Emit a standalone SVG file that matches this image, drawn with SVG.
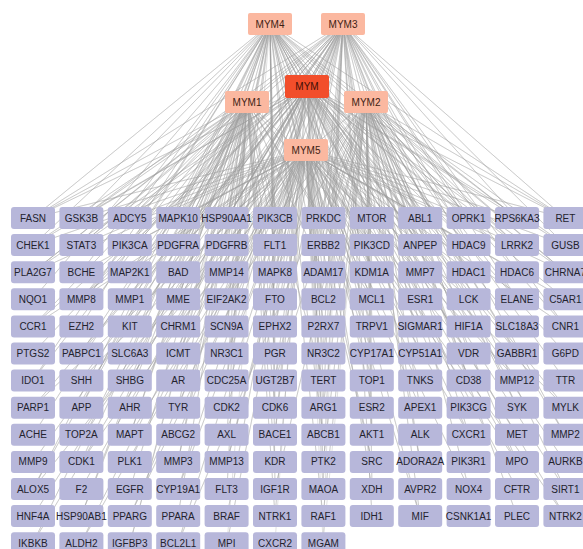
<svg xmlns="http://www.w3.org/2000/svg" width="583" height="549" viewBox="0 0 583 549">
<style>
text{font-family:"Liberation Sans",Arial,sans-serif;font-size:10px;text-anchor:middle}
.t rect{fill:#b7b7da;rx:3px}
.t text{fill:#23232e}
.s rect{fill:#fbb8a0;rx:2px}
.s text{fill:#3e1e14}
#MYM rect{fill:#f24e2b}
#MYM text{fill:#3e0e06}
#edges path{fill:none;stroke:#a0a0a0;stroke-opacity:0.45;stroke-width:0.7;stroke-linejoin:round}
</style>
<rect width="583" height="549" fill="#fff"/>
<g id="edges">
<path d="M270 24L33 218 270 24 81 218 270 24 130 218 270 24 178 218 270 24 227 218 270 24 275 218 270 24 323 218 270 24 372 218 270 24 420 218 270 24 469 218 270 24 517 218 270 24 565 218 270 24 33 245 270 24 130 245 270 24 227 245 270 24 323 245 270 24 420 245 270 24 517 245 270 24 81 272 270 24 178 272 270 24 275 272 270 24 372 272 270 24 469 272 270 24 565 272 270 24 33 299 270 24 178 299 270 24 323 299 270 24 469 299 270 24 81 326 270 24 227 326 270 24 372 326 270 24 517 326 270 24 130 353 270 24 275 353 270 24 420 353 270 24 565 353 270 24 33 380 270 24 227 380 270 24 420 380 270 24 81 407 270 24 275 407 270 24 469 407 270 24 130 435 270 24 323 435 270 24 517 435 270 24 178 462 270 24 372 462 270 24 565 462 270 24 33 489 270 24 275 489 270 24 517 489 270 24 81 516 270 24 323 516 270 24 565 516 270 24 130 543 270 24 227 543"/>
<path d="M343 24L33 218 343 24 81 218 343 24 130 218 343 24 178 218 343 24 227 218 343 24 275 218 343 24 323 218 343 24 372 218 343 24 420 218 343 24 469 218 343 24 517 218 343 24 565 218 343 24 81 245 343 24 178 245 343 24 275 245 343 24 372 245 343 24 469 245 343 24 565 245 343 24 33 272 343 24 130 272 343 24 227 272 343 24 323 272 343 24 420 272 343 24 517 272 343 24 81 299 343 24 227 299 343 24 372 299 343 24 517 299 343 24 130 326 343 24 275 326 343 24 420 326 343 24 565 326 343 24 33 353 343 24 178 353 343 24 323 353 343 24 469 353 343 24 81 380 343 24 275 380 343 24 469 380 343 24 130 407 343 24 323 407 343 24 517 407 343 24 178 435 343 24 372 435 343 24 565 435 343 24 33 462 343 24 227 462 343 24 420 462 343 24 81 489 343 24 323 489 343 24 565 489 343 24 130 516 343 24 372 516 343 24 33 543 343 24 178 543 343 24 323 543"/>
<path d="M307 86L33 218 307 86 81 218 307 86 130 218 307 86 178 218 307 86 227 218 307 86 275 218 307 86 323 218 307 86 372 218 307 86 420 218 307 86 469 218 307 86 517 218 307 86 565 218 307 86 33 245 307 86 81 245 307 86 130 245 307 86 178 245 307 86 227 245 307 86 275 245 307 86 323 245 307 86 372 245 307 86 420 245 307 86 469 245 307 86 517 245 307 86 565 245 307 86 33 272 307 86 178 272 307 86 275 272 307 86 372 272 307 86 469 272 307 86 565 272 307 86 130 299 307 86 275 299 307 86 420 299 307 86 565 299 307 86 33 326 307 86 178 326 307 86 323 326 307 86 469 326 307 86 81 353 307 86 227 353 307 86 372 353 307 86 517 353 307 86 130 380 307 86 323 380 307 86 517 380 307 86 33 407 307 86 178 407 307 86 372 407 307 86 565 407 307 86 81 435 307 86 275 435 307 86 469 435 307 86 130 462 307 86 323 462 307 86 517 462 307 86 178 489 307 86 372 489 307 86 565 489 307 86 33 516 307 86 227 516 307 86 420 516 307 86 81 543 307 86 275 543"/>
<path d="M247 102L33 218 247 102 81 218 247 102 130 218 247 102 178 218 247 102 227 218 247 102 275 218 247 102 323 218 247 102 372 218 247 102 33 245 247 102 81 245 247 102 178 245 247 102 275 245 247 102 372 245 247 102 33 272 247 102 130 272 247 102 227 272 247 102 323 272 247 102 81 299 247 102 178 299 247 102 275 299 247 102 372 299 247 102 33 326 247 102 130 326 247 102 227 326 247 102 81 353 247 102 178 353 247 102 275 353 247 102 33 380 247 102 130 380 247 102 227 380 247 102 323 380 247 102 81 407 247 102 178 407 247 102 275 407 247 102 33 435 247 102 130 435 247 102 227 435 247 102 81 462 247 102 178 462 247 102 275 462 247 102 33 489 247 102 130 489 247 102 227 489 247 102 81 516 247 102 178 516 247 102 275 516 247 102 33 543 247 102 130 543"/>
<path d="M366 102L227 218 366 102 275 218 366 102 323 218 366 102 372 218 366 102 420 218 366 102 469 218 366 102 517 218 366 102 565 218 366 102 323 245 366 102 420 245 366 102 517 245 366 102 565 245 366 102 275 272 366 102 372 272 366 102 469 272 366 102 565 272 366 102 227 299 366 102 323 299 366 102 420 299 366 102 517 299 366 102 372 326 366 102 469 326 366 102 565 326 366 102 323 353 366 102 420 353 366 102 517 353 366 102 275 380 366 102 372 380 366 102 469 380 366 102 565 380 366 102 323 407 366 102 420 407 366 102 517 407 366 102 372 435 366 102 469 435 366 102 565 435 366 102 323 462 366 102 420 462 366 102 517 462 366 102 275 489 366 102 372 489 366 102 469 489 366 102 323 516 366 102 420 516 366 102 517 516 366 102 178 543 366 102 323 543"/>
<path d="M306 150L33 218 306 150 81 218 306 150 130 218 306 150 178 218 306 150 227 218 306 150 275 218 306 150 323 218 306 150 372 218 306 150 420 218 306 150 469 218 306 150 517 218 306 150 565 218 306 150 33 245 306 150 81 245 306 150 130 245 306 150 178 245 306 150 227 245 306 150 275 245 306 150 323 245 306 150 372 245 306 150 420 245 306 150 469 245 306 150 517 245 306 150 565 245 306 150 33 272 306 150 81 272 306 150 130 272 306 150 178 272 306 150 227 272 306 150 275 272 306 150 323 272 306 150 372 272 306 150 420 272 306 150 469 272 306 150 517 272 306 150 565 272 306 150 81 299 306 150 227 299 306 150 323 299 306 150 372 299 306 150 469 299 306 150 565 299 306 150 33 326 306 150 178 326 306 150 275 326 306 150 323 326 306 150 420 326 306 150 565 326 306 150 130 353 306 150 227 353 306 150 323 353 306 150 372 353 306 150 469 353 306 150 81 380 306 150 178 380 306 150 275 380 306 150 372 380 306 150 517 380 306 150 33 407 306 150 227 407 306 150 323 407 306 150 420 407 306 150 565 407 306 150 130 435 306 150 275 435 306 150 323 435 306 150 469 435 306 150 81 462 306 150 227 462 306 150 372 462 306 150 517 462 306 150 33 489 306 150 178 489 306 150 323 489 306 150 469 489 306 150 130 516 306 150 275 516 306 150 420 516 306 150 565 516 306 150 81 543 306 150 227 543 306 150 323 543"/>
</g>
<g id="sources">
<g id="MYM4" class="s"><rect x="248" y="13" width="44" height="22"/><text x="270" y="27.6">MYM4</text></g>
<g id="MYM3" class="s"><rect x="321" y="13" width="44" height="22"/><text x="343" y="27.6">MYM3</text></g>
<g id="MYM" class="s"><rect x="285" y="75" width="44" height="23"/><text x="307" y="90">MYM</text></g>
<g id="MYM1" class="s"><rect x="225" y="91" width="44" height="22"/><text x="247" y="105.6">MYM1</text></g>
<g id="MYM2" class="s"><rect x="344" y="91" width="44" height="22"/><text x="366" y="105.6">MYM2</text></g>
<g id="MYM5" class="s"><rect x="284" y="139" width="44" height="22"/><text x="306" y="153.6">MYM5</text></g>
</g>
<g id="targets">
<g transform="translate(0 207)">
<g id="FASN" class="t" transform="translate(11 0)"><rect width="44" height="22"/><text x="22" y="14.6">FASN</text></g>
<g id="GSK3B" class="t" transform="translate(59.4 0)"><rect width="44" height="22"/><text x="22" y="14.6">GSK3B</text></g>
<g id="ADCY5" class="t" transform="translate(107.8 0)"><rect width="44" height="22"/><text x="22" y="14.6">ADCY5</text></g>
<g id="MAPK10" class="t" transform="translate(156.2 0)"><rect width="44" height="22"/><text x="22" y="14.6">MAPK10</text></g>
<g id="HSP90AA1" class="t" transform="translate(204.6 0)"><rect width="44" height="22"/><text x="22" y="14.6">HSP90AA1</text></g>
<g id="PIK3CB" class="t" transform="translate(253 0)"><rect width="44" height="22"/><text x="22" y="14.6">PIK3CB</text></g>
<g id="PRKDC" class="t" transform="translate(301.4 0)"><rect width="44" height="22"/><text x="22" y="14.6">PRKDC</text></g>
<g id="MTOR" class="t" transform="translate(349.8 0)"><rect width="44" height="22"/><text x="22" y="14.6">MTOR</text></g>
<g id="ABL1" class="t" transform="translate(398.2 0)"><rect width="44" height="22"/><text x="22" y="14.6">ABL1</text></g>
<g id="OPRK1" class="t" transform="translate(446.6 0)"><rect width="44" height="22"/><text x="22" y="14.6">OPRK1</text></g>
<g id="RPS6KA3" class="t" transform="translate(495 0)"><rect width="44" height="22"/><text x="22" y="14.6">RPS6KA3</text></g>
<g id="RET" class="t" transform="translate(543.4 0)"><rect width="44" height="22"/><text x="22" y="14.6">RET</text></g>
</g>
<g transform="translate(0 234.1)">
<g id="CHEK1" class="t" transform="translate(11 0)"><rect width="44" height="22"/><text x="22" y="14.6">CHEK1</text></g>
<g id="STAT3" class="t" transform="translate(59.4 0)"><rect width="44" height="22"/><text x="22" y="14.6">STAT3</text></g>
<g id="PIK3CA" class="t" transform="translate(107.8 0)"><rect width="44" height="22"/><text x="22" y="14.6">PIK3CA</text></g>
<g id="PDGFRA" class="t" transform="translate(156.2 0)"><rect width="44" height="22"/><text x="22" y="14.6">PDGFRA</text></g>
<g id="PDGFRB" class="t" transform="translate(204.6 0)"><rect width="44" height="22"/><text x="22" y="14.6">PDGFRB</text></g>
<g id="FLT1" class="t" transform="translate(253 0)"><rect width="44" height="22"/><text x="22" y="14.6">FLT1</text></g>
<g id="ERBB2" class="t" transform="translate(301.4 0)"><rect width="44" height="22"/><text x="22" y="14.6">ERBB2</text></g>
<g id="PIK3CD" class="t" transform="translate(349.8 0)"><rect width="44" height="22"/><text x="22" y="14.6">PIK3CD</text></g>
<g id="ANPEP" class="t" transform="translate(398.2 0)"><rect width="44" height="22"/><text x="22" y="14.6">ANPEP</text></g>
<g id="HDAC9" class="t" transform="translate(446.6 0)"><rect width="44" height="22"/><text x="22" y="14.6">HDAC9</text></g>
<g id="LRRK2" class="t" transform="translate(495 0)"><rect width="44" height="22"/><text x="22" y="14.6">LRRK2</text></g>
<g id="GUSB" class="t" transform="translate(543.4 0)"><rect width="44" height="22"/><text x="22" y="14.6">GUSB</text></g>
</g>
<g transform="translate(0 261.2)">
<g id="PLA2G7" class="t" transform="translate(11 0)"><rect width="44" height="22"/><text x="22" y="14.6">PLA2G7</text></g>
<g id="BCHE" class="t" transform="translate(59.4 0)"><rect width="44" height="22"/><text x="22" y="14.6">BCHE</text></g>
<g id="MAP2K1" class="t" transform="translate(107.8 0)"><rect width="44" height="22"/><text x="22" y="14.6">MAP2K1</text></g>
<g id="BAD" class="t" transform="translate(156.2 0)"><rect width="44" height="22"/><text x="22" y="14.6">BAD</text></g>
<g id="MMP14" class="t" transform="translate(204.6 0)"><rect width="44" height="22"/><text x="22" y="14.6">MMP14</text></g>
<g id="MAPK8" class="t" transform="translate(253 0)"><rect width="44" height="22"/><text x="22" y="14.6">MAPK8</text></g>
<g id="ADAM17" class="t" transform="translate(301.4 0)"><rect width="44" height="22"/><text x="22" y="14.6">ADAM17</text></g>
<g id="KDM1A" class="t" transform="translate(349.8 0)"><rect width="44" height="22"/><text x="22" y="14.6">KDM1A</text></g>
<g id="MMP7" class="t" transform="translate(398.2 0)"><rect width="44" height="22"/><text x="22" y="14.6">MMP7</text></g>
<g id="HDAC1" class="t" transform="translate(446.6 0)"><rect width="44" height="22"/><text x="22" y="14.6">HDAC1</text></g>
<g id="HDAC6" class="t" transform="translate(495 0)"><rect width="44" height="22"/><text x="22" y="14.6">HDAC6</text></g>
<g id="CHRNA7" class="t" transform="translate(543.4 0)"><rect width="44" height="22"/><text x="22" y="14.6">CHRNA7</text></g>
</g>
<g transform="translate(0 288.3)">
<g id="NQO1" class="t" transform="translate(11 0)"><rect width="44" height="22"/><text x="22" y="14.6">NQO1</text></g>
<g id="MMP8" class="t" transform="translate(59.4 0)"><rect width="44" height="22"/><text x="22" y="14.6">MMP8</text></g>
<g id="MMP1" class="t" transform="translate(107.8 0)"><rect width="44" height="22"/><text x="22" y="14.6">MMP1</text></g>
<g id="MME" class="t" transform="translate(156.2 0)"><rect width="44" height="22"/><text x="22" y="14.6">MME</text></g>
<g id="EIF2AK2" class="t" transform="translate(204.6 0)"><rect width="44" height="22"/><text x="22" y="14.6">EIF2AK2</text></g>
<g id="FTO" class="t" transform="translate(253 0)"><rect width="44" height="22"/><text x="22" y="14.6">FTO</text></g>
<g id="BCL2" class="t" transform="translate(301.4 0)"><rect width="44" height="22"/><text x="22" y="14.6">BCL2</text></g>
<g id="MCL1" class="t" transform="translate(349.8 0)"><rect width="44" height="22"/><text x="22" y="14.6">MCL1</text></g>
<g id="ESR1" class="t" transform="translate(398.2 0)"><rect width="44" height="22"/><text x="22" y="14.6">ESR1</text></g>
<g id="LCK" class="t" transform="translate(446.6 0)"><rect width="44" height="22"/><text x="22" y="14.6">LCK</text></g>
<g id="ELANE" class="t" transform="translate(495 0)"><rect width="44" height="22"/><text x="22" y="14.6">ELANE</text></g>
<g id="C5AR1" class="t" transform="translate(543.4 0)"><rect width="44" height="22"/><text x="22" y="14.6">C5AR1</text></g>
</g>
<g transform="translate(0 315.4)">
<g id="CCR1" class="t" transform="translate(11 0)"><rect width="44" height="22"/><text x="22" y="14.6">CCR1</text></g>
<g id="EZH2" class="t" transform="translate(59.4 0)"><rect width="44" height="22"/><text x="22" y="14.6">EZH2</text></g>
<g id="KIT" class="t" transform="translate(107.8 0)"><rect width="44" height="22"/><text x="22" y="14.6">KIT</text></g>
<g id="CHRM1" class="t" transform="translate(156.2 0)"><rect width="44" height="22"/><text x="22" y="14.6">CHRM1</text></g>
<g id="SCN9A" class="t" transform="translate(204.6 0)"><rect width="44" height="22"/><text x="22" y="14.6">SCN9A</text></g>
<g id="EPHX2" class="t" transform="translate(253 0)"><rect width="44" height="22"/><text x="22" y="14.6">EPHX2</text></g>
<g id="P2RX7" class="t" transform="translate(301.4 0)"><rect width="44" height="22"/><text x="22" y="14.6">P2RX7</text></g>
<g id="TRPV1" class="t" transform="translate(349.8 0)"><rect width="44" height="22"/><text x="22" y="14.6">TRPV1</text></g>
<g id="SIGMAR1" class="t" transform="translate(398.2 0)"><rect width="44" height="22"/><text x="22" y="14.6">SIGMAR1</text></g>
<g id="HIF1A" class="t" transform="translate(446.6 0)"><rect width="44" height="22"/><text x="22" y="14.6">HIF1A</text></g>
<g id="SLC18A3" class="t" transform="translate(495 0)"><rect width="44" height="22"/><text x="22" y="14.6">SLC18A3</text></g>
<g id="CNR1" class="t" transform="translate(543.4 0)"><rect width="44" height="22"/><text x="22" y="14.6">CNR1</text></g>
</g>
<g transform="translate(0 342.5)">
<g id="PTGS2" class="t" transform="translate(11 0)"><rect width="44" height="22"/><text x="22" y="14.6">PTGS2</text></g>
<g id="PABPC1" class="t" transform="translate(59.4 0)"><rect width="44" height="22"/><text x="22" y="14.6">PABPC1</text></g>
<g id="SLC6A3" class="t" transform="translate(107.8 0)"><rect width="44" height="22"/><text x="22" y="14.6">SLC6A3</text></g>
<g id="ICMT" class="t" transform="translate(156.2 0)"><rect width="44" height="22"/><text x="22" y="14.6">ICMT</text></g>
<g id="NR3C1" class="t" transform="translate(204.6 0)"><rect width="44" height="22"/><text x="22" y="14.6">NR3C1</text></g>
<g id="PGR" class="t" transform="translate(253 0)"><rect width="44" height="22"/><text x="22" y="14.6">PGR</text></g>
<g id="NR3C2" class="t" transform="translate(301.4 0)"><rect width="44" height="22"/><text x="22" y="14.6">NR3C2</text></g>
<g id="CYP17A1" class="t" transform="translate(349.8 0)"><rect width="44" height="22"/><text x="22" y="14.6">CYP17A1</text></g>
<g id="CYP51A1" class="t" transform="translate(398.2 0)"><rect width="44" height="22"/><text x="22" y="14.6">CYP51A1</text></g>
<g id="VDR" class="t" transform="translate(446.6 0)"><rect width="44" height="22"/><text x="22" y="14.6">VDR</text></g>
<g id="GABBR1" class="t" transform="translate(495 0)"><rect width="44" height="22"/><text x="22" y="14.6">GABBR1</text></g>
<g id="G6PD" class="t" transform="translate(543.4 0)"><rect width="44" height="22"/><text x="22" y="14.6">G6PD</text></g>
</g>
<g transform="translate(0 369.6)">
<g id="IDO1" class="t" transform="translate(11 0)"><rect width="44" height="22"/><text x="22" y="14.6">IDO1</text></g>
<g id="SHH" class="t" transform="translate(59.4 0)"><rect width="44" height="22"/><text x="22" y="14.6">SHH</text></g>
<g id="SHBG" class="t" transform="translate(107.8 0)"><rect width="44" height="22"/><text x="22" y="14.6">SHBG</text></g>
<g id="AR" class="t" transform="translate(156.2 0)"><rect width="44" height="22"/><text x="22" y="14.6">AR</text></g>
<g id="CDC25A" class="t" transform="translate(204.6 0)"><rect width="44" height="22"/><text x="22" y="14.6">CDC25A</text></g>
<g id="UGT2B7" class="t" transform="translate(253 0)"><rect width="44" height="22"/><text x="22" y="14.6">UGT2B7</text></g>
<g id="TERT" class="t" transform="translate(301.4 0)"><rect width="44" height="22"/><text x="22" y="14.6">TERT</text></g>
<g id="TOP1" class="t" transform="translate(349.8 0)"><rect width="44" height="22"/><text x="22" y="14.6">TOP1</text></g>
<g id="TNKS" class="t" transform="translate(398.2 0)"><rect width="44" height="22"/><text x="22" y="14.6">TNKS</text></g>
<g id="CD38" class="t" transform="translate(446.6 0)"><rect width="44" height="22"/><text x="22" y="14.6">CD38</text></g>
<g id="MMP12" class="t" transform="translate(495 0)"><rect width="44" height="22"/><text x="22" y="14.6">MMP12</text></g>
<g id="TTR" class="t" transform="translate(543.4 0)"><rect width="44" height="22"/><text x="22" y="14.6">TTR</text></g>
</g>
<g transform="translate(0 396.7)">
<g id="PARP1" class="t" transform="translate(11 0)"><rect width="44" height="22"/><text x="22" y="14.6">PARP1</text></g>
<g id="APP" class="t" transform="translate(59.4 0)"><rect width="44" height="22"/><text x="22" y="14.6">APP</text></g>
<g id="AHR" class="t" transform="translate(107.8 0)"><rect width="44" height="22"/><text x="22" y="14.6">AHR</text></g>
<g id="TYR" class="t" transform="translate(156.2 0)"><rect width="44" height="22"/><text x="22" y="14.6">TYR</text></g>
<g id="CDK2" class="t" transform="translate(204.6 0)"><rect width="44" height="22"/><text x="22" y="14.6">CDK2</text></g>
<g id="CDK6" class="t" transform="translate(253 0)"><rect width="44" height="22"/><text x="22" y="14.6">CDK6</text></g>
<g id="ARG1" class="t" transform="translate(301.4 0)"><rect width="44" height="22"/><text x="22" y="14.6">ARG1</text></g>
<g id="ESR2" class="t" transform="translate(349.8 0)"><rect width="44" height="22"/><text x="22" y="14.6">ESR2</text></g>
<g id="APEX1" class="t" transform="translate(398.2 0)"><rect width="44" height="22"/><text x="22" y="14.6">APEX1</text></g>
<g id="PIK3CG" class="t" transform="translate(446.6 0)"><rect width="44" height="22"/><text x="22" y="14.6">PIK3CG</text></g>
<g id="SYK" class="t" transform="translate(495 0)"><rect width="44" height="22"/><text x="22" y="14.6">SYK</text></g>
<g id="MYLK" class="t" transform="translate(543.4 0)"><rect width="44" height="22"/><text x="22" y="14.6">MYLK</text></g>
</g>
<g transform="translate(0 423.8)">
<g id="ACHE" class="t" transform="translate(11 0)"><rect width="44" height="22"/><text x="22" y="14.6">ACHE</text></g>
<g id="TOP2A" class="t" transform="translate(59.4 0)"><rect width="44" height="22"/><text x="22" y="14.6">TOP2A</text></g>
<g id="MAPT" class="t" transform="translate(107.8 0)"><rect width="44" height="22"/><text x="22" y="14.6">MAPT</text></g>
<g id="ABCG2" class="t" transform="translate(156.2 0)"><rect width="44" height="22"/><text x="22" y="14.6">ABCG2</text></g>
<g id="AXL" class="t" transform="translate(204.6 0)"><rect width="44" height="22"/><text x="22" y="14.6">AXL</text></g>
<g id="BACE1" class="t" transform="translate(253 0)"><rect width="44" height="22"/><text x="22" y="14.6">BACE1</text></g>
<g id="ABCB1" class="t" transform="translate(301.4 0)"><rect width="44" height="22"/><text x="22" y="14.6">ABCB1</text></g>
<g id="AKT1" class="t" transform="translate(349.8 0)"><rect width="44" height="22"/><text x="22" y="14.6">AKT1</text></g>
<g id="ALK" class="t" transform="translate(398.2 0)"><rect width="44" height="22"/><text x="22" y="14.6">ALK</text></g>
<g id="CXCR1" class="t" transform="translate(446.6 0)"><rect width="44" height="22"/><text x="22" y="14.6">CXCR1</text></g>
<g id="MET" class="t" transform="translate(495 0)"><rect width="44" height="22"/><text x="22" y="14.6">MET</text></g>
<g id="MMP2" class="t" transform="translate(543.4 0)"><rect width="44" height="22"/><text x="22" y="14.6">MMP2</text></g>
</g>
<g transform="translate(0 450.9)">
<g id="MMP9" class="t" transform="translate(11 0)"><rect width="44" height="22"/><text x="22" y="14.6">MMP9</text></g>
<g id="CDK1" class="t" transform="translate(59.4 0)"><rect width="44" height="22"/><text x="22" y="14.6">CDK1</text></g>
<g id="PLK1" class="t" transform="translate(107.8 0)"><rect width="44" height="22"/><text x="22" y="14.6">PLK1</text></g>
<g id="MMP3" class="t" transform="translate(156.2 0)"><rect width="44" height="22"/><text x="22" y="14.6">MMP3</text></g>
<g id="MMP13" class="t" transform="translate(204.6 0)"><rect width="44" height="22"/><text x="22" y="14.6">MMP13</text></g>
<g id="KDR" class="t" transform="translate(253 0)"><rect width="44" height="22"/><text x="22" y="14.6">KDR</text></g>
<g id="PTK2" class="t" transform="translate(301.4 0)"><rect width="44" height="22"/><text x="22" y="14.6">PTK2</text></g>
<g id="SRC" class="t" transform="translate(349.8 0)"><rect width="44" height="22"/><text x="22" y="14.6">SRC</text></g>
<g id="ADORA2A" class="t" transform="translate(398.2 0)"><rect width="44" height="22"/><text x="22" y="14.6">ADORA2A</text></g>
<g id="PIK3R1" class="t" transform="translate(446.6 0)"><rect width="44" height="22"/><text x="22" y="14.6">PIK3R1</text></g>
<g id="MPO" class="t" transform="translate(495 0)"><rect width="44" height="22"/><text x="22" y="14.6">MPO</text></g>
<g id="AURKB" class="t" transform="translate(543.4 0)"><rect width="44" height="22"/><text x="22" y="14.6">AURKB</text></g>
</g>
<g transform="translate(0 478)">
<g id="ALOX5" class="t" transform="translate(11 0)"><rect width="44" height="22"/><text x="22" y="14.6">ALOX5</text></g>
<g id="F2" class="t" transform="translate(59.4 0)"><rect width="44" height="22"/><text x="22" y="14.6">F2</text></g>
<g id="EGFR" class="t" transform="translate(107.8 0)"><rect width="44" height="22"/><text x="22" y="14.6">EGFR</text></g>
<g id="CYP19A1" class="t" transform="translate(156.2 0)"><rect width="44" height="22"/><text x="22" y="14.6">CYP19A1</text></g>
<g id="FLT3" class="t" transform="translate(204.6 0)"><rect width="44" height="22"/><text x="22" y="14.6">FLT3</text></g>
<g id="IGF1R" class="t" transform="translate(253 0)"><rect width="44" height="22"/><text x="22" y="14.6">IGF1R</text></g>
<g id="MAOA" class="t" transform="translate(301.4 0)"><rect width="44" height="22"/><text x="22" y="14.6">MAOA</text></g>
<g id="XDH" class="t" transform="translate(349.8 0)"><rect width="44" height="22"/><text x="22" y="14.6">XDH</text></g>
<g id="AVPR2" class="t" transform="translate(398.2 0)"><rect width="44" height="22"/><text x="22" y="14.6">AVPR2</text></g>
<g id="NOX4" class="t" transform="translate(446.6 0)"><rect width="44" height="22"/><text x="22" y="14.6">NOX4</text></g>
<g id="CFTR" class="t" transform="translate(495 0)"><rect width="44" height="22"/><text x="22" y="14.6">CFTR</text></g>
<g id="SIRT1" class="t" transform="translate(543.4 0)"><rect width="44" height="22"/><text x="22" y="14.6">SIRT1</text></g>
</g>
<g transform="translate(0 505.1)">
<g id="HNF4A" class="t" transform="translate(11 0)"><rect width="44" height="22"/><text x="22" y="14.6">HNF4A</text></g>
<g id="HSP90AB1" class="t" transform="translate(59.4 0)"><rect width="44" height="22"/><text x="22" y="14.6">HSP90AB1</text></g>
<g id="PPARG" class="t" transform="translate(107.8 0)"><rect width="44" height="22"/><text x="22" y="14.6">PPARG</text></g>
<g id="PPARA" class="t" transform="translate(156.2 0)"><rect width="44" height="22"/><text x="22" y="14.6">PPARA</text></g>
<g id="BRAF" class="t" transform="translate(204.6 0)"><rect width="44" height="22"/><text x="22" y="14.6">BRAF</text></g>
<g id="NTRK1" class="t" transform="translate(253 0)"><rect width="44" height="22"/><text x="22" y="14.6">NTRK1</text></g>
<g id="RAF1" class="t" transform="translate(301.4 0)"><rect width="44" height="22"/><text x="22" y="14.6">RAF1</text></g>
<g id="IDH1" class="t" transform="translate(349.8 0)"><rect width="44" height="22"/><text x="22" y="14.6">IDH1</text></g>
<g id="MIF" class="t" transform="translate(398.2 0)"><rect width="44" height="22"/><text x="22" y="14.6">MIF</text></g>
<g id="CSNK1A1" class="t" transform="translate(446.6 0)"><rect width="44" height="22"/><text x="22" y="14.6">CSNK1A1</text></g>
<g id="PLEC" class="t" transform="translate(495 0)"><rect width="44" height="22"/><text x="22" y="14.6">PLEC</text></g>
<g id="NTRK2" class="t" transform="translate(543.4 0)"><rect width="44" height="22"/><text x="22" y="14.6">NTRK2</text></g>
</g>
<g transform="translate(0 532.2)">
<g id="IKBKB" class="t" transform="translate(11 0)"><rect width="44" height="22"/><text x="22" y="14.6">IKBKB</text></g>
<g id="ALDH2" class="t" transform="translate(59.4 0)"><rect width="44" height="22"/><text x="22" y="14.6">ALDH2</text></g>
<g id="IGFBP3" class="t" transform="translate(107.8 0)"><rect width="44" height="22"/><text x="22" y="14.6">IGFBP3</text></g>
<g id="BCL2L1" class="t" transform="translate(156.2 0)"><rect width="44" height="22"/><text x="22" y="14.6">BCL2L1</text></g>
<g id="MPI" class="t" transform="translate(204.6 0)"><rect width="44" height="22"/><text x="22" y="14.6">MPI</text></g>
<g id="CXCR2" class="t" transform="translate(253 0)"><rect width="44" height="22"/><text x="22" y="14.6">CXCR2</text></g>
<g id="MGAM" class="t" transform="translate(301.4 0)"><rect width="44" height="22"/><text x="22" y="14.6">MGAM</text></g>
</g>
</g>
</svg>
